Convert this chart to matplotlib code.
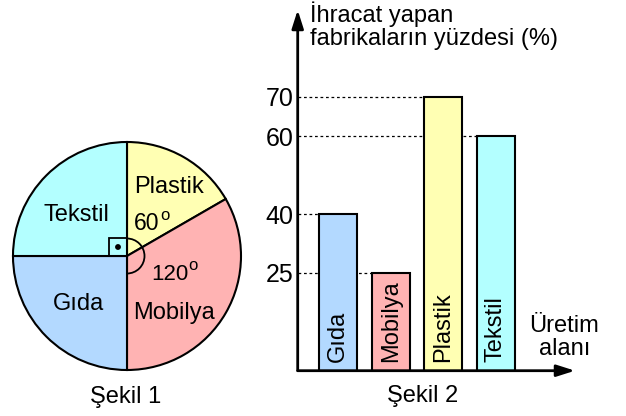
import matplotlib
matplotlib.use("Agg")
import matplotlib.pyplot as plt
from matplotlib.patches import Rectangle, Arc, Circle

plt.rcParams['font.family'] = ['Liberation Sans', 'DejaVu Sans']

# ---- data ----
pie_labels = ["Plastik", "Mobilya", "Gıda", "Tekstil"]
pie_angles = [60, 120, 90, 90]
pie_colors = ["#ffffb3", "#ffb3b3", "#b3d9ff", "#b3ffff"]

bar_categories = ["Gıda", "Mobilya", "Plastik", "Tekstil"]
bar_values = [40, 25, 70, 60]
bar_colors = ["#b3d9ff", "#ffb3b3", "#ffffb3", "#b3ffff"]

W, H = 626, 416
fig = plt.figure(figsize=(W / 100, H / 100), dpi=100)
FS = 17

# ---- pie (Şekil 1) ----
cx, cy, R = 127, 256, 114
half = 125
axp = fig.add_axes([(cx - half) / W, 1 - (cy + half) / H, 2 * half / W, 2 * half / H])
lim = half / R
axp.axis('off')
axp.pie(pie_angles, colors=pie_colors, startangle=90, counterclock=False,
        radius=1, wedgeprops=dict(edgecolor='black', linewidth=1.5))
axp.set_aspect('equal')
axp.set_xlim(-lim, lim)
axp.set_ylim(-lim, lim)

def P(px, py):
    return ((px - cx) / R, (cy - py) / R)

sq = 18 / R
axp.add_patch(Rectangle((-sq, 0), sq, sq, facecolor='none', edgecolor='black', lw=1.3, zorder=5))
axp.add_patch(Circle((-sq / 2, sq / 2), 2.2 / R, color='black', zorder=6))
axp.add_patch(Arc((0, 0), 2 * 17.5 / R, 2 * 17.5 / R, theta1=-90, theta2=90,
                  color='black', lw=1.3, zorder=5))

def t(ax, xy, s, **kw):
    kw.setdefault('fontsize', FS)
    ax.text(xy[0], xy[1], s, clip_on=False, **kw)

t(axp, P(76, 221), "Tekstil", ha='center', va='baseline')
t(axp, P(169, 193), "Plastik", ha='center', va='baseline')
t(axp, P(134, 230), "60", ha='left', va='baseline', fontsize=16.5)
t(axp, P(160, 220), "o", ha='left', va='baseline', fontsize=12)
t(axp, P(151, 280), "120", ha='left', va='baseline', fontsize=16)
t(axp, P(188.5, 270), "o", ha='left', va='baseline', fontsize=12)
t(axp, P(78, 310), "Gıda", ha='center', va='baseline')
t(axp, P(174, 319), "Mobilya", ha='center', va='baseline')
t(axp, P(126, 403), "Şekil 1", ha='center', va='baseline')

# ---- bars (Şekil 2) ----
x0px, x1px = 297.7, 575
ytop, ybot = 10, 370.7
axb = fig.add_axes([x0px / W, 1 - ybot / H, (x1px - x0px) / W, (ybot - ytop) / H])
sx = 52.4
c0 = 338.3
xmin = (x0px - c0) / sx
xmax = (x1px - c0) / sx
sy = 3.91
ymax = (ybot - ytop) / sy
axb.set_xlim(xmin, xmax)
axb.set_ylim(0, ymax)
for s in axb.spines.values():
    s.set_visible(False)
axb.patch.set_alpha(0)

bw = 38 / sx
xs = list(range(len(bar_categories)))
axb.bar(xs, bar_values, width=bw, color=bar_colors, edgecolor='black', linewidth=1.5, zorder=3)
for i, v in enumerate(bar_values):
    axb.hlines(v, xmin, i - bw / 2, colors='black', linestyles=(0, (2.2, 2.2)), lw=0.9, zorder=1)
    axb.text(i, 2.3, bar_categories[i], rotation=90, ha='center', va='bottom', fontsize=FS, zorder=4)

axb.set_xticks([])
axb.set_yticks(bar_values)
axb.set_yticklabels([str(v) for v in bar_values], fontsize=18)
axb.tick_params(axis='y', length=0, pad=3)

arrow = dict(arrowstyle='-|>,head_length=1.1,head_width=0.35', lw=2, color='black',
             shrinkA=0, shrinkB=0, mutation_scale=10)
axb.annotate('', xy=(0, 1), xytext=(0, 0), xycoords='axes fraction', arrowprops=arrow, zorder=6)
axb.annotate('', xy=(1, 0), xytext=(0, 0), xycoords='axes fraction', arrowprops=arrow, zorder=6)

def B(px, py):
    return ((px - c0) / sx, (ybot - py) / sy)

t(axb, B(310, 22), "İhracat yapan", ha='left', va='baseline')
t(axb, B(310, 45), "fabrikaların yüzdesi (%)", ha='left', va='baseline')
t(axb, B(564, 331.7), "Üretim", ha='center', va='baseline')
t(axb, B(565, 355), "alanı", ha='center', va='baseline')
t(axb, B(423, 401.7), "Şekil 2", ha='center', va='baseline')

fig.savefig("out.png", dpi=100)
